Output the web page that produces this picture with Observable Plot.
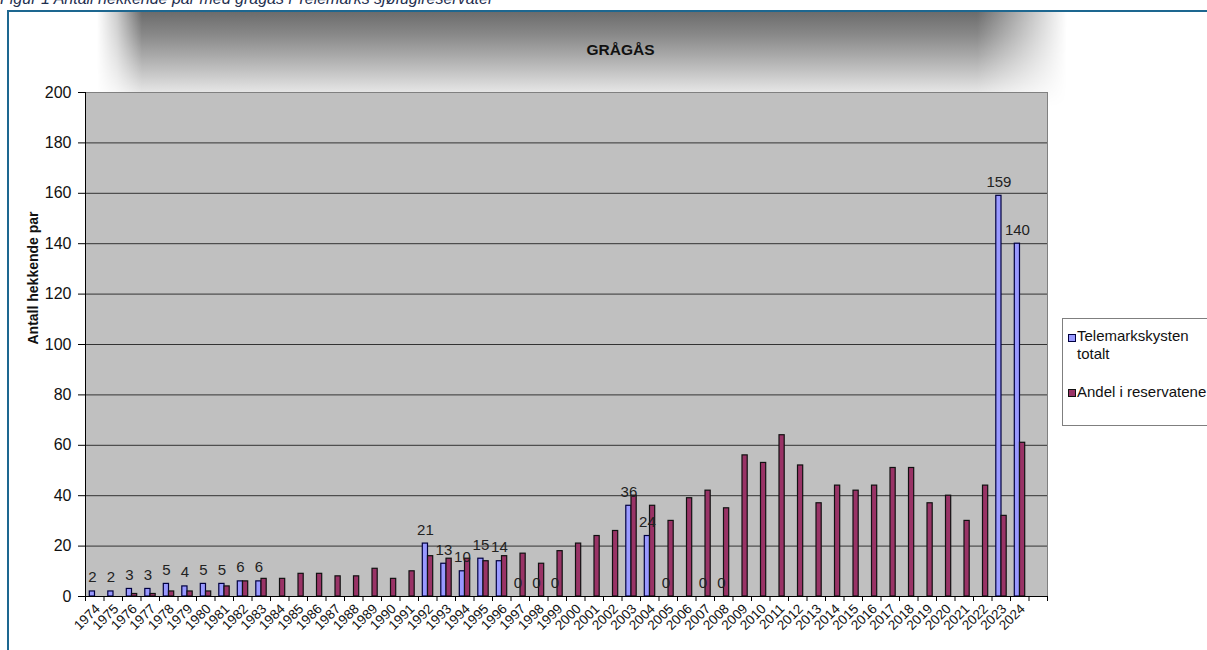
<!DOCTYPE html>
<html><head><meta charset="utf-8">
<script src="https://cdn.jsdelivr.net/npm/d3@7"></script>
<script src="https://cdn.jsdelivr.net/npm/@observablehq/plot@0.6"></script>
<style>
html,body{margin:0;padding:0;background:#fff;overflow:hidden;width:1207px;height:650px;}
body{position:relative;font-family:"Liberation Sans",Arial,sans-serif;}
#caption{position:absolute;left:0;top:-10px;font-size:16px;line-height:18px;font-style:italic;color:#1f3050;white-space:nowrap;}
#box{position:absolute;left:7px;top:10px;width:1400px;height:800px;border:2px solid #1d6790;overflow:hidden;background:#fff;}
#shade{position:absolute;left:88px;top:0px;width:970px;height:95px;
  background:linear-gradient(to bottom,#6c6c6c 0%,#8a8a8a 25%,#a8a8a8 45%,#cfcfcf 70%,#f2f2f2 92%,#fff 100%);
  -webkit-mask-image:linear-gradient(to right,transparent 0px,rgba(0,0,0,0.35) 20px,black 45px,black 880px,transparent 970px);
  mask-image:linear-gradient(to right,transparent 0px,rgba(0,0,0,0.35) 20px,black 45px,black 880px,transparent 970px);}
#chart{position:absolute;left:0;top:0;}
#legend{position:absolute;left:1062px;top:318px;width:200px;height:106px;border:1px solid #7f7f7f;background:#fff;font-size:15px;color:#111;}
.sw{position:absolute;width:6px;height:6px;border:1px solid #111;}
.lt{position:absolute;line-height:18px;white-space:nowrap;}
</style></head>
<body>
<div id="caption"></div>
<div id="box"><div id="shade"></div></div>
<div id="chart"></div>
<div id="legend"></div>
<script>
const captionText = "Figur 1 Antall hekkende par med grågås i Telemarks sjøfuglreservater";
const title = "GRÅGÅS";
const yLabel = "Antall hekkende par";
const seriesNames = ["Telemarkskysten totalt", "Andel i reservatene"];
const seriesColors = ["#9999ff", "#993366"];
const years = ["1974","1975","1976","1977","1978","1979","1980","1981","1982","1983","1984","1985","1986","1987","1988","1989","1990","1991","1992","1993","1994","1995","1996","1997","1998","1999","2000","2001","2002","2003","2004","2005","2006","2007","2008","2009","2010","2011","2012","2013","2014","2015","2016","2017","2018","2019","2020","2021","2022","2023","2024"];
const totalt = [2,2,3,3,5,4,5,5,6,6, null,null,null,null,null,null,null,null, 21,13,10,15,14, 0,0,0, null,null,null, 36,24, 0, null, 0,0, null,null,null,null,null,null,null,null,null,null,null,null,null,null, 159,140];
const reservat = [null,null,1,1,2,2,2,4,6,7, 7,9,9,8,8,11,7,10, 16,15,15,14,16, 17,13,18, 21,24,26, 40,36, 30, 39, 42,35, 56,53,64,52,37,44,42,44,51,51,37,40,30,44, 32,61];
const yTicks = [0,20,40,60,80,100,120,140,160,180,200];

document.getElementById("caption").textContent = captionText;

const rows = years.map((y,i)=>({year:y, t:totalt[i], r:reservat[i]}));
const domain = [...years, " "];
const half = 9.25;
const font = "Liberation Sans, Arial, sans-serif";

const chart = Plot.plot({
  width:1207, height:650,
  marginLeft:85, marginRight:160, marginTop:92, marginBottom:54,
  style:{background:"transparent", fontFamily:font, color:"#111"},
  x:{domain, padding:0, round:false},
  y:{domain:[0,200]},
  marks:[
    Plot.frame({fill:"#c0c0c0", stroke:"#808080"}),
    Plot.ruleY(yTicks.filter(v=>v>0 && v<200), {stroke:"#333"}),
    Plot.barY(rows.filter(d=>d.t!=null), {x:"year", y:"t", fill:seriesColors[0], stroke:"#000040", strokeWidth:1.2, insetLeft:4.3, insetRight:9}),
    Plot.barY(rows.filter(d=>d.r!=null), {x:"year", y:"r", fill:seriesColors[1], stroke:"#111", strokeWidth:1.2, insetLeft:9.5, insetRight:3.8}),
    Plot.text(rows.filter(d=>d.t!=null), {x:"year", y:"t", text:d=>String(d.t), dx:-2.3, dy:-9, lineAnchor:"bottom", fontSize:15, fill:"#222"}),
    Plot.ruleY([0], {stroke:"black"}),
    Plot.ruleX([years[0]], {x:d=>d, y1:0, y2:200, dx:-half, stroke:"black"}),
    Plot.axisY({ticks:yTicks, tickSize:7, tickPadding:7, fontSize:16, label:null, stroke:"black", fill:"#111"}),
    Plot.axisX({ticks:domain, tickSize:5, tickFormat:()=>"", dx:-half, label:null, stroke:"black"}),
    Plot.axisX({ticks:[" "], tickSize:5, tickFormat:()=>"", dx:half, label:null, stroke:"black"}),
    Plot.axisX({ticks:years, tickSize:0, tickRotate:-45, tickPadding:10, dx:3, fontSize:13.5, label:null, fill:"#111"}),
    Plot.text([yLabel], {frameAnchor:"left", rotate:-90, dx:-52, fontWeight:"bold", fontSize:14, fill:"#111"}),
    Plot.text([title], {frameAnchor:"top", dx:54, dy:-49, fontWeight:"bold", fontSize:15.5, fill:"#111"})
  ]
});
document.getElementById("chart").appendChild(chart);

const lg = document.getElementById("legend");
lg.innerHTML =
  `<div class="sw" style="left:5px;top:15px;background:${seriesColors[0]};border-color:#000040"></div>` +
  `<div class="lt" style="left:14px;top:8px">Telemarkskysten<br>totalt</div>` +
  `<div class="sw" style="left:5px;top:70px;background:${seriesColors[1]}"></div>` +
  `<div class="lt" style="left:14px;top:64px">${seriesNames[1]}</div>`;
</script>
</body></html>
